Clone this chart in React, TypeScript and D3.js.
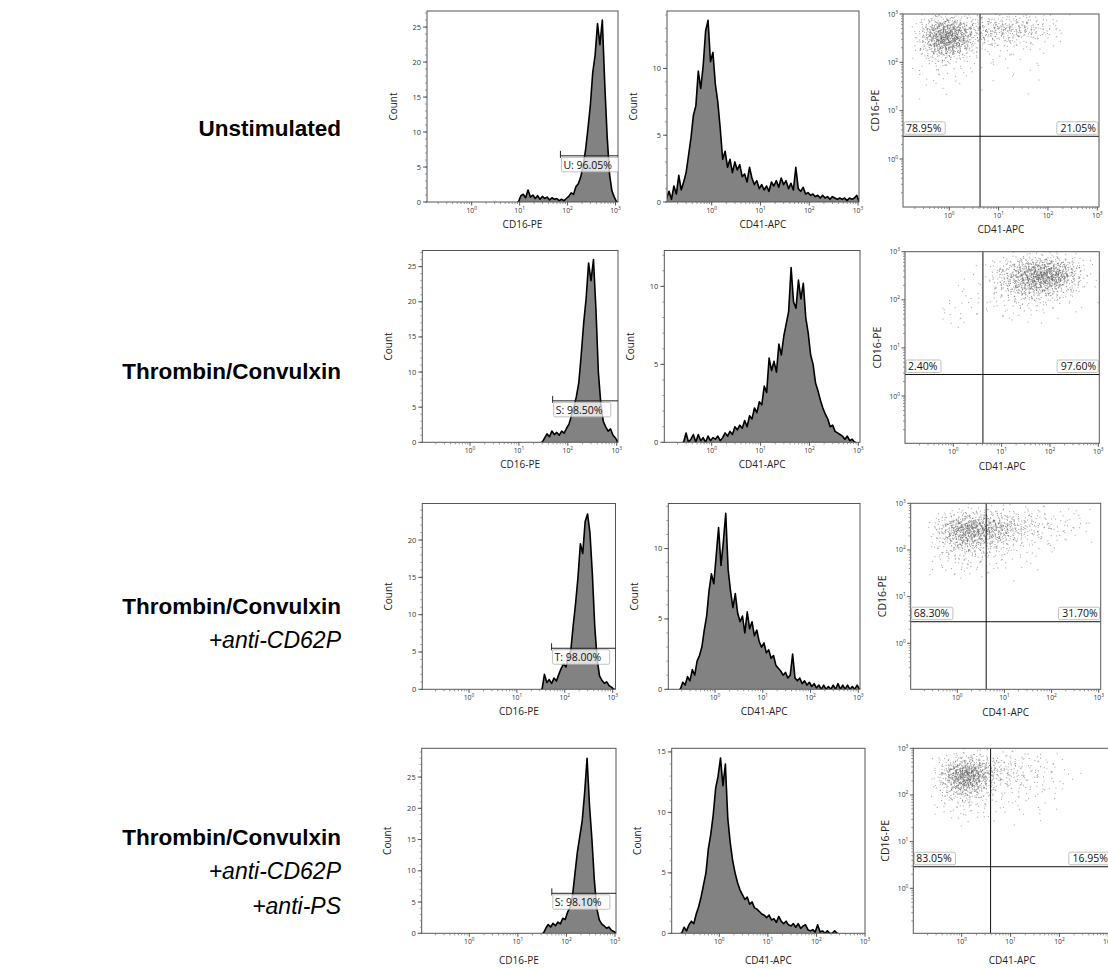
import React, { useMemo } from 'react';
import * as d3 from 'd3';

// ---------------- DATA ----------------
const BIN = 0.05; // histogram bin width in log10 decades
const decadeTicks = [1, 10, 100, 1000];

// CD16-PE histograms (first-bin log10 start, counts per bin)
const cd16Starts = [0.95, 1.45, 1.5, 1.5];
const cd16Unstim = [0, 0.9, 1.1, 0.6, 1.7, 0.7, 1.0, 0.5, 0.9, 0.4, 0.8, 0.5, 0.7, 0.3, 0.6, 0.4, 0.5, 0.2, 0.4, 0.2, 0.5,
  0.8, 1.3, 1.1, 2.2, 2.6, 3.6, 5.2, 7.4, 10.5, 13.8, 18.5, 21, 25.5, 22.5, 26, 17, 9.5, 4, 1.6, 0.7, 0];
const cd16Thrombin = [0, 0.6, 1.2, 0.8, 1.6, 1.1, 1.4, 1.0, 1.6, 1.3, 2.0, 2.6, 3.8, 5.0, 6.5, 8.5, 12.5, 17, 20.5, 25.5,
  23, 26, 19, 10, 5.5, 3.0, 2.2, 1.6, 1.9, 1.0, 0.6, 0];
const cd16AntiP = [0, 2.0, 0.9, 1.3, 0.8, 1.5, 1.1, 2.0, 2.8, 3.4, 3.0, 4.5, 5.2, 8.5, 11.5, 15, 19.5, 18.2, 22.5, 23.5,
  21, 15.5, 8.5, 4.0, 1.8, 1.2, 0.8, 1.0, 0.5, 0.3, 0];
const cd16AntiPS = [0, 0.8, 1.4, 1.0, 1.6, 1.2, 1.8, 1.5, 2.4, 2.2, 3.4, 4.2, 6.0, 9.5, 13, 15.5, 18, 22.5, 28, 20.5,
  15, 8.5, 4.0, 2.2, 1.5, 1.2, 0.8, 1.0, 0.5, 0.3, 0];

// CD41-APC histograms
const cd41Starts = [-0.95, -0.6, -0.75, -0.8];
const cd41Unstim = [0.3, 0.8, 0.2, 1.2, 0.6, 2.0, 0.9, 1.5, 2.2, 3.5, 4.8, 6.5, 7.2, 9.8, 8.5, 10.2, 12.8, 13.6, 10.5, 11.2,
  8.8, 7.5, 5.5, 3.2, 3.8, 2.6, 3.2, 2.2, 3.0, 2.4, 2.8, 1.9, 2.1, 1.5, 2.6, 1.8, 1.3, 1.6, 1.0, 1.3,
  0.9, 1.2, 0.8, 1.5, 1.2, 1.6, 1.1, 1.8, 1.3, 1.6, 1.0, 1.4, 0.9, 2.6, 1.0, 0.8, 1.1, 0.6, 0.7, 0.5,
  0.6, 0.4, 0.5, 0.3, 0.5, 0.3, 0.4, 0.2, 0.4, 0.3, 0.2, 0.3, 0.2, 0.3, 0.1, 0.3, 0.2, 0.3, 0.5, 0];
const cd41Thrombin = [0, 0.6, 0, 0.2, 0.5, 0, 0.5, 0.1, 0.3, 0, 0.4, 0.1, 0.3, 0.2, 0.4, 0.1, 0.3, 0.6, 0.4, 0.7,
  0.5, 1.0, 0.8, 1.1, 0.9, 1.4, 1.0, 1.7, 1.5, 2.2, 1.9, 2.6, 2.4, 3.6, 3.2, 5.4, 4.6, 5.2, 4.5, 6.3,
  5.6, 6.8, 7.6, 8.4, 11.2, 9.0, 8.6, 10.4, 9.2, 10.2, 8.0, 7.0, 5.6, 5.0, 3.8, 3.3, 2.7, 2.2, 1.8, 1.5,
  1.0, 1.1, 0.7, 0.6, 0.5, 0.4, 0.2, 0.4, 0.1, 0.2, 0];
const cd41AntiP = [0, 0.5, 0.3, 0.9, 0.6, 1.4, 1.0, 2.0, 2.4, 3.0, 4.2, 5.2, 7.0, 8.2, 7.5, 9.5, 11.5, 8.8, 10.5, 12.5,
  8.5, 7.0, 5.8, 6.8, 5.4, 4.8, 5.2, 4.0, 5.5, 4.3, 4.8, 3.8, 4.2, 3.4, 3.0, 3.3, 2.6, 2.8, 2.2, 2.4,
  1.7, 1.5, 1.3, 1.0, 1.2, 0.8, 1.0, 2.5, 0.8, 0.6, 0.8, 0.4, 0.6, 0.3, 0.5, 0.2, 0.4, 0.1, 0.3, 0,
  0.3, 0, 0.2, 0, 0.3, 0, 0.4, 0, 0.3, 0, 0.3, 0, 0.2, 0, 0.3, 0];
const cd41AntiPS = [0, 0.5, 0.2, 0.7, 1.0, 0.8, 1.6, 2.2, 3.0, 4.0, 5.0, 7.0, 8.2, 9.8, 12.0, 13.0, 14.5, 12.2, 14.0, 9.5,
  7.5, 6.0, 5.0, 4.2, 3.6, 3.2, 2.8, 3.0, 2.4, 2.6, 2.1, 2.0, 1.8, 1.6, 1.5, 1.3, 1.5, 1.1, 1.2, 0.9,
  1.4, 1.0, 0.8, 1.0, 0.7, 0.6, 0.8, 0.5, 0.8, 0.4, 0.6, 0.7, 0.3, 0.2, 0.3, 0.1, 0.7, 0.1, 0.2, 0,
  0.2, 0, 0, 0.2, 0];

const cd16YMax = [27.3, 27.3, 24.9, 29.6];
const cd41YMax = [14.3, 12.3, 13.2, 15.3];
const cd16YTicks = [[0, 5, 10, 15, 20, 25], [0, 5, 10, 15, 20, 25], [0, 5, 10, 15, 20], [0, 5, 10, 15, 20, 25]];
const cd41YTicks = [[0, 5, 10], [0, 5, 10], [0, 5, 10], [0, 5, 10, 15]];

// CD16-PE gate
const gateLabels = ['U: 96.05%', 'S: 98.50%', 'T: 98.00%', 'S: 98.10%'];
const gateStart = [71, 49, 53, 50];
const gateLevel = [6.6, 5.9, 5.5, 6.4];

// Scatter quadrants
const quadLeftLabels = ['78.95%', '2.40%', '68.30%', '83.05%'];
const quadRightLabels = ['21.05%', '97.60%', '31.70%', '16.95%'];
const quadXCut = [4.2, 4.1, 4.1, 3.9];
const quadYCut = [2.95, 2.8, 2.9, 2.9];

// Scatter density grids: rows = CD16-PE log10 bins (top row first), cols = CD41-APC log10 bins
const scatterCell = 0.2;
const scatterXStart = -1.0;
const scatterYRowStarts = [2.8, 2.6, 2.4, 2.2, 2.0, 1.8, 1.6, 1.4, 1.2];
const scUnstim = [
  [0, 0, 5, 15, 22, 18, 12, 8, 9, 10, 12, 10, 8, 6, 4, 3, 1, 0, 0, 0],
  [0, 2, 22, 65, 95, 85, 50, 28, 26, 30, 34, 30, 26, 20, 12, 6, 2, 0, 0, 0],
  [0, 3, 25, 90, 140, 120, 60, 22, 16, 15, 15, 12, 10, 8, 5, 2, 1, 0, 0, 0],
  [0, 2, 14, 48, 70, 55, 25, 8, 5, 4, 4, 3, 3, 2, 1, 0, 0, 0, 0, 0],
  [0, 1, 5, 12, 15, 12, 6, 3, 2, 2, 2, 1, 1, 1, 0, 0, 0, 0, 0, 0],
  [0, 1, 2, 4, 4, 3, 2, 1, 1, 1, 1, 1, 1, 0, 1, 0, 0, 0, 0, 0],
  [0, 0, 2, 2, 2, 2, 1, 1, 0, 1, 0, 1, 0, 1, 0, 0, 0, 0, 0, 0],
  [0, 0, 1, 1, 1, 1, 0, 0, 1, 0, 0, 0, 1, 0, 0, 0, 0, 0, 0, 0],
  [0, 0, 1, 0, 1, 0, 0, 0, 0, 0, 0, 0, 0, 0, 0, 0, 0, 0, 0, 0],
];
const scThrombin = [
  [0, 0, 0, 0, 0, 0, 0, 0, 0, 1, 2, 4, 6, 8, 8, 7, 5, 3, 1, 0],
  [0, 0, 0, 0, 0, 0, 0, 1, 2, 6, 16, 30, 45, 60, 65, 55, 38, 16, 4, 1],
  [0, 0, 0, 0, 0, 0, 1, 1, 3, 10, 28, 50, 80, 110, 125, 105, 65, 25, 6, 1],
  [0, 0, 0, 0, 0, 1, 1, 1, 3, 8, 22, 38, 55, 68, 62, 45, 25, 10, 3, 1],
  [0, 0, 0, 0, 1, 1, 1, 2, 2, 5, 10, 15, 18, 20, 16, 10, 6, 3, 1, 0],
  [0, 0, 0, 1, 2, 2, 2, 2, 2, 3, 4, 5, 5, 5, 4, 3, 2, 1, 1, 1],
  [0, 0, 0, 1, 2, 2, 2, 1, 1, 1, 2, 2, 2, 2, 1, 1, 0, 0, 0, 0],
  [0, 0, 0, 0, 1, 1, 1, 0, 0, 0, 1, 0, 1, 0, 0, 0, 0, 0, 0, 0],
  [0, 0, 0, 0, 0, 0, 0, 0, 0, 0, 0, 0, 0, 0, 0, 0, 0, 0, 0, 0],
];
const scAntiP = [
  [0, 0, 0, 0, 1, 2, 3, 3, 3, 3, 3, 2, 2, 2, 1, 1, 1, 1, 1, 0],
  [0, 0, 2, 6, 14, 22, 26, 24, 20, 18, 14, 10, 8, 8, 5, 4, 3, 2, 2, 0],
  [0, 0, 5, 22, 55, 85, 92, 78, 60, 50, 35, 20, 15, 12, 8, 6, 5, 3, 3, 0],
  [0, 0, 4, 16, 42, 62, 66, 55, 40, 30, 20, 12, 8, 6, 4, 3, 2, 1, 1, 0],
  [0, 0, 3, 10, 20, 28, 28, 22, 15, 10, 8, 5, 3, 2, 2, 1, 1, 0, 0, 0],
  [0, 0, 2, 5, 8, 10, 10, 8, 6, 4, 3, 2, 2, 1, 1, 0, 0, 0, 0, 0],
  [0, 0, 2, 3, 4, 5, 4, 4, 3, 2, 2, 1, 1, 1, 0, 0, 0, 0, 0, 0],
  [0, 0, 1, 1, 2, 2, 2, 1, 1, 1, 1, 0, 0, 0, 0, 0, 0, 0, 0, 0],
  [0, 0, 0, 0, 0, 0, 0, 0, 0, 0, 0, 0, 0, 0, 0, 0, 0, 0, 0, 0],
];
const scAntiPS = [
  [0, 0, 0, 1, 3, 5, 5, 4, 3, 3, 2, 2, 1, 1, 1, 0, 0, 0, 0, 0],
  [0, 0, 3, 10, 25, 35, 30, 20, 12, 10, 8, 6, 5, 4, 2, 1, 0, 0, 0, 0],
  [0, 0, 8, 35, 95, 125, 90, 45, 20, 14, 10, 8, 6, 5, 3, 2, 1, 0, 0, 0],
  [0, 0, 6, 30, 85, 105, 70, 30, 14, 10, 8, 6, 5, 4, 2, 1, 1, 0, 0, 0],
  [0, 0, 4, 15, 35, 40, 28, 12, 6, 4, 4, 3, 3, 3, 1, 1, 0, 0, 0, 0],
  [0, 0, 2, 6, 10, 12, 8, 5, 3, 2, 2, 2, 2, 2, 1, 0, 0, 0, 0, 0],
  [0, 0, 2, 3, 4, 4, 4, 3, 2, 1, 2, 1, 1, 1, 1, 0, 0, 0, 0, 0],
  [0, 0, 1, 1, 2, 2, 1, 1, 1, 1, 1, 0, 1, 0, 0, 0, 0, 0, 0, 0],
  [0, 0, 0, 0, 0, 0, 0, 0, 0, 0, 0, 0, 0, 0, 0, 0, 0, 0, 0, 0],
];

const rowTitles = ['Unstimulated', 'Thrombin/Convulxin', 'Thrombin/Convulxin', 'Thrombin/Convulxin'];
const rowSubtitles = [[], [], ['+anti-CD62P'], ['+anti-CD62P', '+anti-PS']];

const cd16Hists = [cd16Unstim, cd16Thrombin, cd16AntiP, cd16AntiPS];
const cd41Hists = [cd41Unstim, cd41Thrombin, cd41AntiP, cd41AntiPS];
const scatters = [scUnstim, scThrombin, scAntiP, scAntiPS];

// ---------------- LAYOUT ----------------
const LAYOUT = [
  { top: 11, bottom: 202, h1: { x0: 427, x1: 618, p0: 471.7, p3: 615.5 }, h2: { x0: 667, x1: 859, p0: 711.7, p3: 858 },
    sc: { x0: 903, x1: 1099, p0: 949.3, p3: 1097.3, top: 14, bottom: 207, q0: 159, q3: 14 },
    hLabelY: 224, sLabelY: 229, titleY: [136] },
  { top: 250.5, bottom: 442.3, h1: { x0: 422.3, x1: 618, p0: 470, p3: 616.7 }, h2: { x0: 664.3, x1: 860, p0: 711.7, p3: 858.3 },
    sc: { x0: 905, x1: 1099.3, p0: 953.3, p3: 1098.3, top: 251.7, bottom: 443.3, q0: 396, q3: 251.7 },
    hLabelY: 464, sLabelY: 466, titleY: [379] },
  { top: 503.5, bottom: 689.3, h1: { x0: 422.3, x1: 615.5, p0: 469, p3: 612.7 }, h2: { x0: 668.3, x1: 860, p0: 715, p3: 858.3 },
    sc: { x0: 910.7, x1: 1100.7, p0: 957.3, p3: 1098.7, top: 503.3, bottom: 689.3, q0: 643.3, q3: 503.3 },
    hLabelY: 711, sLabelY: 712, titleY: [614, 648] },
  { top: 748.3, bottom: 933.3, h1: { x0: 421.7, x1: 616, p0: 469.3, p3: 615 }, h2: { x0: 671.7, x1: 865, p0: 719.3, p3: 865 },
    sc: { x0: 913.3, x1: 1111, p0: 961.7, p3: 1108.3, top: 748.3, bottom: 933.3, q0: 888.3, q3: 748.3 },
    hLabelY: 960, sLabelY: 960, titleY: [845, 879, 914] },
];

const FONT = "'Open Sans', 'DejaVu Sans', sans-serif";
const TITLE_FONT = "'Liberation Sans', Arial, sans-serif";
const FRAME = '#555';

function halton(i: number, b: number) {
  let f = 1, r = 0;
  while (i > 0) { f /= b; r += f * (i % b); i = Math.floor(i / b); }
  return r;
}

function DecadeLabel({ x, y, exp }: any) {
  return (
    <text x={x} y={y} textAnchor="middle" fontSize={6.8} fontFamily={FONT} fill="#333">
      10<tspan dy={-3} fontSize={4.8}>{exp}</tspan>
    </text>
  );
}

function LogXAxis({ xs, x0, x1, y }: any) {
  const minors: number[] = [];
  for (let d = -1; d <= 2; d++) for (let m = 2; m <= 9; m++) minors.push(m * Math.pow(10, d));
  return (
    <g>
      {minors.filter(v => xs(v) > x0 + 1 && xs(v) < x1 - 1).map((v, i) => (
        <line key={'m' + i} x1={xs(v)} x2={xs(v)} y1={y} y2={y + 2} stroke="#777" strokeWidth={0.8} />
      ))}
      {decadeTicks.map((v, i) => (
        <g key={'M' + i}>
          <line x1={xs(v)} x2={xs(v)} y1={y} y2={y + 3.5} stroke="#444" strokeWidth={0.9} />
          <DecadeLabel x={xs(v)} y={y + 11} exp={i} />
        </g>
      ))}
    </g>
  );
}

function HistPanel({ f, top, bottom, ymax, yTicks, start, counts, xLabel, labelY, gate, id }: any) {
  const xs = d3.scaleLog().domain([1, 1000]).range([f.p0, f.p3]);
  const ys = d3.scaleLinear().domain([0, ymax]).range([bottom, top]);
  const pts: [number, number][] = [[Math.pow(10, start), 0]];
  counts.forEach((c: number, i: number) => pts.push([Math.pow(10, start + (i + 0.5) * BIN), c]));
  pts.push([Math.pow(10, start + counts.length * BIN), 0]);
  const area = d3.area<[number, number]>().x(d => xs(d[0])).y0(bottom).y1(d => ys(d[1])).curve(d3.curveLinear);
  const line = d3.line<[number, number]>().x(d => xs(d[0])).y(d => ys(d[1])).curve(d3.curveLinear);
  const minorY = d3.range(0, Math.floor(ymax) + 1);
  const midY = (top + bottom) / 2;
  let gateEl = null;
  if (gate) {
    const gx = xs(gate.start);
    const gy = ys(gate.level);
    const w = gate.label.length * 5.9 + 4;
    gateEl = (
      <g>
        <line x1={gx} x2={f.x1} y1={gy} y2={gy} stroke="#222" strokeWidth={1} />
        <line x1={gx} x2={gx} y1={gy - 5} y2={gy + 2} stroke="#222" strokeWidth={1} />
        <rect x={gx + 1} y={gy + 1.5} width={w} height={14.5} rx={1.5} fill="#fff" fillOpacity={0.75} stroke="#b0b0b0" strokeWidth={0.8} />
        <text x={gx + 3} y={gy + 12.8} fontSize={10.5} fontFamily={FONT} fill="#111">{gate.label}</text>
      </g>
    );
  }
  return (
    <g>
      <defs>
        <clipPath id={id}><rect x={f.x0} y={top} width={f.x1 - f.x0} height={bottom - top} /></clipPath>
      </defs>
      <g clipPath={`url(#${id})`}>
        <path d={area(pts) || ''} fill="#828282" />
        <path d={line(pts) || ''} fill="none" stroke="#000" strokeWidth={1.6} strokeLinejoin="round" />
      </g>
      <rect x={f.x0} y={top} width={f.x1 - f.x0} height={bottom - top} fill="none" stroke={FRAME} strokeWidth={1} />
      {minorY.map(v => (
        <line key={'ym' + v} x1={f.x0 - 2} x2={f.x0} y1={ys(v)} y2={ys(v)} stroke="#777" strokeWidth={0.7} />
      ))}
      {yTicks.map((v: number) => (
        <g key={'yt' + v}>
          <line x1={f.x0 - 4} x2={f.x0} y1={ys(v)} y2={ys(v)} stroke="#444" strokeWidth={0.9} />
          <text x={f.x0 - 6} y={ys(v) + 2.5} textAnchor="end" fontSize={7.5} fontFamily={FONT} fill="#333">{v}</text>
        </g>
      ))}
      <LogXAxis xs={xs} x0={f.x0} x1={f.x1} y={bottom} />
      <text transform={`translate(${f.x0 - 34},${midY}) rotate(-90)`} textAnchor="middle" dy="0.35em" fontSize={10} fontFamily={FONT} fill="#222">Count</text>
      <text x={(f.x0 + f.x1) / 2} y={labelY} dy="0.35em" textAnchor="middle" fontSize={10} fontFamily={FONT} fill="#222">{xLabel}</text>
      {gateEl}
    </g>
  );
}

function ScatterPanel({ s, grid, qx, qy, leftLabel, rightLabel, labelY, id }: any) {
  const xs = d3.scaleLog().domain([1, 1000]).range([s.p0, s.p3]);
  const ys = d3.scaleLog().domain([1, 1000]).range([s.q0, s.q3]);
  const dots = useMemo(() => {
    const out: { x: number; y: number }[] = [];
    let k = 1;
    grid.forEach((row: number[], r: number) => {
      const yb = scatterYRowStarts[r];
      row.forEach((n: number, c: number) => {
        const xb = scatterXStart + c * scatterCell;
        for (let j = 0; j < n; j++) {
          // spread each cell's events with a smooth (triangular) kernel over its neighbours
          const u = halton(k, 2) + halton(k, 5) - 0.5;
          const v = halton(k, 3) + halton(k, 7) - 0.5;
          k++;
          out.push({ x: Math.pow(10, xb + scatterCell * u), y: Math.pow(10, yb + scatterCell * v) });
        }
      });
    });
    return out;
  }, [grid]);
  const minors: number[] = [];
  for (let d = -1; d <= 2; d++) for (let m = 2; m <= 9; m++) minors.push(m * Math.pow(10, d));
  const hx = xs(qx), hy = ys(qy);
  const wl = leftLabel.length * 6.2 + 4;
  const wr = rightLabel.length * 6.2 + 4;
  return (
    <g>
      <defs>
        <clipPath id={id}><rect x={s.x0} y={s.top} width={s.x1 - s.x0} height={s.bottom - s.top} /></clipPath>
      </defs>
      <g clipPath={`url(#${id})`}>
        {dots.map((d, i) => (
          <rect key={i} x={xs(d.x)} y={ys(d.y)} width={1} height={1} fill="#5e5e5e" fillOpacity={0.6} />
        ))}
        <line x1={hx} x2={hx} y1={s.top} y2={s.bottom} stroke="#111" strokeWidth={1} />
        <line x1={s.x0} x2={s.x1} y1={hy} y2={hy} stroke="#111" strokeWidth={1} />
        <rect x={s.x0 + 1} y={hy - 14.5} width={wl} height={12.5} rx={1.5} fill="#fff" fillOpacity={0.85} stroke="#b0b0b0" strokeWidth={0.8} />
        <text x={s.x0 + 3} y={hy - 4.6} fontSize={10.5} fontFamily={FONT} fill="#111">{leftLabel}</text>
        <rect x={s.x1 - 1 - wr} y={hy - 14.5} width={wr} height={12.5} rx={1.5} fill="#fff" fillOpacity={0.85} stroke="#b0b0b0" strokeWidth={0.8} />
        <text x={s.x1 - 3} y={hy - 4.6} textAnchor="end" fontSize={10.5} fontFamily={FONT} fill="#111">{rightLabel}</text>
      </g>
      <rect x={s.x0} y={s.top} width={s.x1 - s.x0} height={s.bottom - s.top} fill="none" stroke={FRAME} strokeWidth={1} />
      <LogXAxis xs={xs} x0={s.x0} x1={s.x1} y={s.bottom} />
      {minors.filter(v => ys(v) < s.bottom - 1 && ys(v) > s.top + 1).map((v, i) => (
        <line key={'ym' + i} x1={s.x0 - 2} x2={s.x0} y1={ys(v)} y2={ys(v)} stroke="#777" strokeWidth={0.8} />
      ))}
      {decadeTicks.map((v, i) => (
        <g key={'yM' + i}>
          <line x1={s.x0 - 3.5} x2={s.x0} y1={ys(v)} y2={ys(v)} stroke="#444" strokeWidth={0.9} />
          <text x={s.x0 - 5} y={ys(v) + 2.5} textAnchor="end" fontSize={6.8} fontFamily={FONT} fill="#333">
            10<tspan dy={-3} fontSize={4.8}>{i}</tspan>
          </text>
        </g>
      ))}
      <text transform={`translate(${s.x0 - 28},${(s.top + s.bottom) / 2}) rotate(-90)`} textAnchor="middle" dy="0.35em" fontSize={10.5} fontFamily={FONT} fill="#222">CD16-PE</text>
      <text x={(s.x0 + s.x1) / 2} y={labelY} dy="0.35em" textAnchor="middle" fontSize={10} fontFamily={FONT} fill="#222">CD41-APC</text>
    </g>
  );
}

export default function App() {
  return (
    <svg width={1108} height={969} style={{ position: 'absolute', left: 0, top: 0, background: '#fff' }}>
      <rect x={0} y={0} width={1108} height={969} fill="#fff" />
      {LAYOUT.map((L, r) => (
        <g key={r}>
          <text x={341} y={L.titleY[0]} textAnchor="end" fontSize={22.5} fontWeight="bold" fontFamily={TITLE_FONT} fill="#000">{rowTitles[r]}</text>
          {rowSubtitles[r].map((t, j) => (
            <text key={j} x={341} y={L.titleY[j + 1]} textAnchor="end" fontSize={23} fontStyle="italic" fontFamily={TITLE_FONT} fill="#000">{t}</text>
          ))}
          <HistPanel id={`h1c${r}`} f={L.h1} top={L.top} bottom={L.bottom} ymax={cd16YMax[r]} yTicks={cd16YTicks[r]}
            start={cd16Starts[r]} counts={cd16Hists[r]} xLabel="CD16-PE" labelY={L.hLabelY}
            gate={{ start: gateStart[r], level: gateLevel[r], label: gateLabels[r] }} />
          <HistPanel id={`h2c${r}`} f={L.h2} top={L.top} bottom={L.bottom} ymax={cd41YMax[r]} yTicks={cd41YTicks[r]}
            start={cd41Starts[r]} counts={cd41Hists[r]} xLabel="CD41-APC" labelY={L.hLabelY} gate={null} />
          <ScatterPanel id={`scc${r}`} s={L.sc} grid={scatters[r]} qx={quadXCut[r]} qy={quadYCut[r]}
            leftLabel={quadLeftLabels[r]} rightLabel={quadRightLabels[r]} labelY={L.sLabelY} />
        </g>
      ))}
    </svg>
  );
}
